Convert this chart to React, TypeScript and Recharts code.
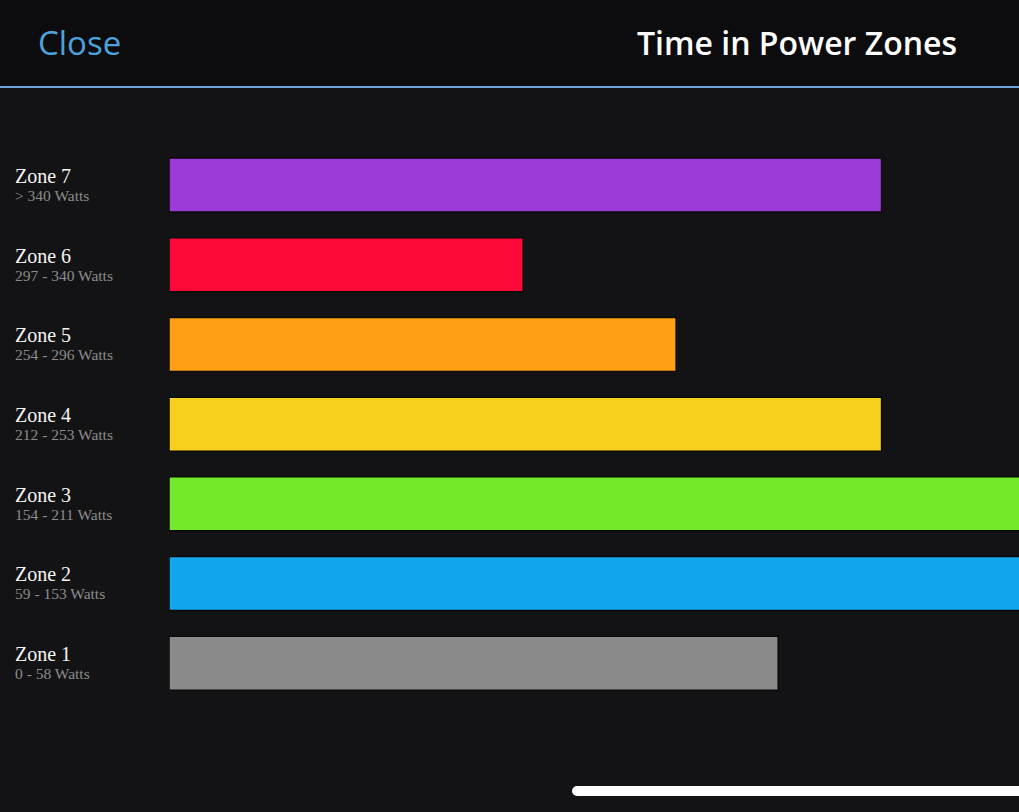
import React from 'react';
import { BarChart, Bar, XAxis, YAxis, Cell } from 'recharts';

const zones = ['Zone 7', 'Zone 6', 'Zone 5', 'Zone 4', 'Zone 3', 'Zone 2', 'Zone 1'];
const ranges = [
  '> 340 Watts',
  '297 - 340 Watts',
  '254 - 296 Watts',
  '212 - 253 Watts',
  '154 - 211 Watts',
  '59 - 153 Watts',
  '0 - 58 Watts',
];
const minutes = [50.3, 25.0, 35.8, 50.3, 68, 72, 43.0];
const colors = ['#9d3bd8', '#ff0a38', '#ff9f14', '#f9cf1d', '#74e92b', '#12a7ec', '#8a8a8a'];

const data = zones.map((z, i) => ({ name: z, range: ranges[i], value: minutes[i] }));

const ZoneTick = (props: any) => {
  const { y, payload, index } = props;
  const range = ranges[index] ?? data.find((d) => d.name === payload.value)?.range;
  return (
    <g>
      <text
        x={15}
        y={y - 2}
        fill="#f4f4f4"
        fontFamily="'Liberation Serif', 'DejaVu Serif', serif"
        fontSize={20}
        textAnchor="start"
      >
        {payload.value}
      </text>
      <text
        x={15}
        y={y + 16}
        fill="#8c8c8c"
        fontFamily="'Liberation Serif', 'DejaVu Serif', serif"
        fontSize={15.5}
        textAnchor="start"
      >
        {range}
      </text>
    </g>
  );
};

export default function App() {
  return (
    <div
      style={{
        position: 'absolute',
        top: 0,
        left: 0,
        width: 1019,
        height: 812,
        background: '#131315',
        overflow: 'hidden',
      }}
    >
      <div
        style={{
          position: 'absolute',
          top: 0,
          left: 0,
          width: 1019,
          height: 86,
          background: '#0c0c0e',
        }}
      />
      <div
        style={{
          position: 'absolute',
          top: 86,
          left: 0,
          width: 1019,
          height: 2,
          background: '#6aa6dc',
        }}
      />
      <div
        style={{
          position: 'absolute',
          left: 38,
          top: 23,
          fontFamily: "'Open Sans', Roboto, sans-serif",
          fontSize: 33,
          color: '#4ba2dd',
          lineHeight: '40px',
        }}
      >
        Close
      </div>
      <div
        style={{
          position: 'absolute',
          right: 62,
          top: 23,
          fontFamily: "'Open Sans', Roboto, sans-serif",
          fontSize: 32,
          fontWeight: 600,
          color: '#ffffff',
          lineHeight: '40px',
        }}
      >
        Time in Power Zones
      </div>

      <div style={{ position: 'absolute', top: 90, left: 0 }}>
        <BarChart
          width={1019}
          height={650}
          data={data}
          layout="vertical"
          margin={{ top: 55, right: 0, bottom: 37, left: 0 }}
        >
          <XAxis type="number" hide domain={[0, 60]} allowDataOverflow />
          <YAxis
            type="category"
            dataKey="name"
            width={169}
            axisLine={false}
            tickLine={false}
            tick={<ZoneTick />}
            interval={0}
          />
          <Bar dataKey="value" barSize={54} isAnimationActive={false} stroke="#0a0a0a" strokeWidth={1.5}>
            {data.map((d, i) => (
              <Cell key={d.name} fill={colors[i]} />
            ))}
          </Bar>
        </BarChart>
      </div>

      <div
        style={{
          position: 'absolute',
          left: 572,
          top: 786,
          width: 480,
          height: 10,
          borderRadius: 5,
          background: '#ffffff',
        }}
      />
    </div>
  );
}
